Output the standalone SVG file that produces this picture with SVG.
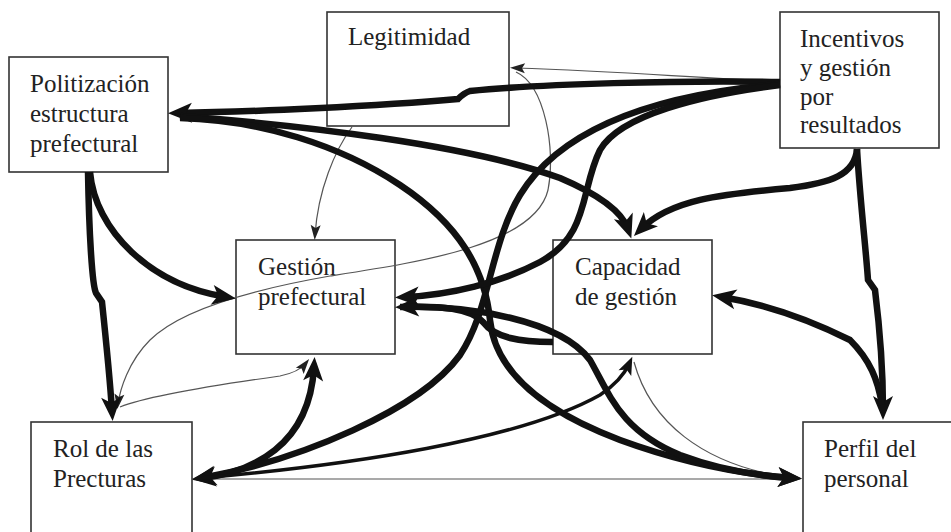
<svg xmlns="http://www.w3.org/2000/svg" width="951" height="532" viewBox="0 0 951 532">
<style>
.box{fill:#fff;stroke:#333;stroke-width:1.6}
.lbl{font-family:"Liberation Serif","Times New Roman",serif;font-size:25px;fill:#222}
.thick{fill:none;stroke:#111;stroke-width:6.5;stroke-linecap:butt}
.med{fill:none;stroke:#111;stroke-width:3.5}
.thin{fill:none;stroke:#555;stroke-width:1.2}
</style>
<defs>
<marker id="big" markerUnits="userSpaceOnUse" markerWidth="26" markerHeight="22" refX="14" refY="10" orient="auto-start-reverse" overflow="visible"><path d="M0,0 L24,10 L0,20 L6,10 z" fill="#111"/></marker>
<marker id="mid" markerUnits="userSpaceOnUse" markerWidth="20" markerHeight="16" refX="10" refY="7" orient="auto" overflow="visible"><path d="M0,0 L18,7 L0,14 L4,7 z" fill="#111"/></marker>
<marker id="sm" markerUnits="userSpaceOnUse" markerWidth="16" markerHeight="12" refX="10" refY="5" orient="auto" overflow="visible"><path d="M0,0 L15,5 L0,10 L3,5 z" fill="#222"/></marker>
</defs>
<rect width="951" height="532" fill="#fff"/>
<g id="politizacion"><rect class="box" x="9" y="57" width="159" height="115"/><text class="lbl" x="30" y="92">Politización</text><text class="lbl" x="30" y="122">estructura</text><text class="lbl" x="30" y="152">prefectural</text></g>
<g id="legitimidad"><rect class="box" x="327" y="12" width="182" height="114"/><text class="lbl" x="348" y="45">Legitimidad</text></g>
<g id="incentivos"><rect class="box" x="780" y="12" width="159" height="136"/><text class="lbl" x="800" y="47">Incentivos</text><text class="lbl" x="800" y="76">y gestión</text><text class="lbl" x="800" y="105">por</text><text class="lbl" x="800" y="133">resultados</text></g>
<g id="gestion"><rect class="box" x="236" y="240" width="159" height="114"/><text class="lbl" x="258" y="275">Gestión</text><text class="lbl" x="258" y="305">prefectural</text></g>
<g id="capacidad"><rect class="box" x="553" y="240" width="159" height="114"/><text class="lbl" x="575" y="275">Capacidad</text><text class="lbl" x="575" y="305">de gestión</text></g>
<g id="rol"><rect class="box" x="31" y="422" width="161" height="120"/><text class="lbl" x="53" y="457">Rol de las</text><text class="lbl" x="53" y="487">Precturas</text></g>
<g id="perfil"><rect class="box" x="803" y="422" width="160" height="120"/><text class="lbl" x="824" y="457">Perfil del</text><text class="lbl" x="824" y="487">personal</text></g>
<g id="connectors">
<path class="thin" marker-end="url(#sm)" d="M780,81 C700,79 640,72 515,68"/>
<path class="thin" marker-end="url(#sm)" d="M352,127 C335,150 318,190 315,235"/>
<path class="thin" marker-end="url(#sm)" d="M516,72 C545,85 556,150 548,190 C535,245 420,262 330,276 C250,290 180,310 150,340 C128,362 120,390 118,404"/>
<path class="thin" marker-end="url(#sm)" d="M120,407 C150,395 230,383 280,376 C295,373 302,368 306,363"/>
<path class="thin" d="M202,479 L792,479"/>
<path class="thin" d="M634,362 C650,420 700,465 792,478"/>
<path class="thick" marker-end="url(#big)" d="M780,82 C680,80 540,84 470,91 Q464,93 458,99 C380,106 250,112 178,113"/>
<path class="thick" marker-end="url(#big)" d="M180,116 C300,125 470,145 560,178 C600,195 622,212 628,229"/>
<path class="thick" marker-end="url(#big)" d="M180,118 C260,120 340,145 400,185 C460,225 485,270 490,320 C495,370 540,410 620,440 C680,462 740,474 792,478"/>
<path class="thick" marker-end="url(#big)" d="M90,172 C95,230 150,285 226,297"/>
<path class="thick" marker-end="url(#big)" d="M88,172 C89,230 92,285 96,293 L102,302 C106,340 110,380 112,411"/>
<path class="thick" marker-start="url(#big)" marker-end="url(#big)" d="M314,367 C312,400 300,430 275,450 C255,466 230,475 202,478"/>
<path class="thick" marker-end="url(#big)" d="M780,84 C650,95 560,130 520,195 C490,245 490,310 460,355 C420,410 300,460 202,478"/>
<path class="thick" marker-end="url(#big)" d="M780,85 C700,95 620,115 600,150 C580,190 590,235 540,262 C500,283 450,295 405,297"/>
<path class="thick" marker-end="url(#big)" d="M553,342 C520,342 495,338 483,322 C470,308 440,306 405,307"/>
<path class="thick" marker-end="url(#big)" d="M400,307 C470,305 560,320 590,360 C610,395 620,430 680,455 C720,470 760,476 792,478"/>
<path class="med" marker-end="url(#mid)" d="M202,478 C350,465 520,440 600,395 C615,385 624,375 629,364"/>
<path class="thick" marker-end="url(#big)" d="M857,149 C855,175 830,183 790,188 C720,194 670,200 641,229"/>
<path class="thick" marker-end="url(#big)" d="M857,149 C860,200 866,250 868,280 L875,290 C880,330 883,370 883,410"/>
<path class="thick" marker-end="url(#big)" d="M882,405 C878,380 870,360 850,340 C810,320 770,305 722,297"/>
</g>
</svg>
